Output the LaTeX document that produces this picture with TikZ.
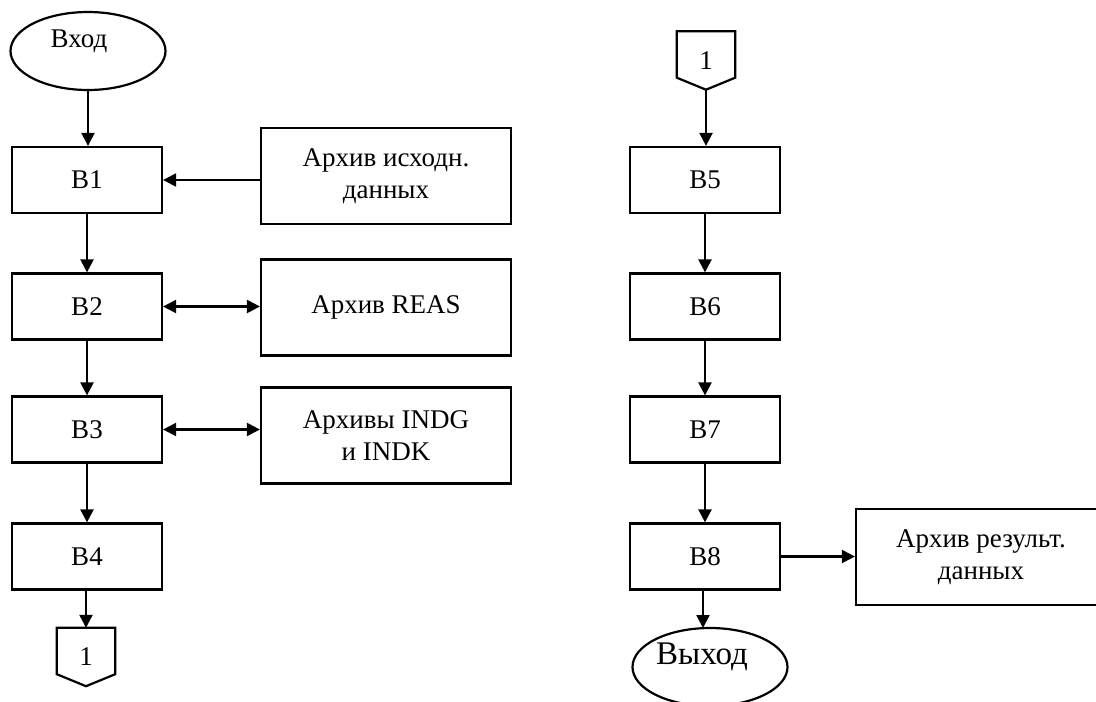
\documentclass[tikz,border=0pt]{standalone}
\usepackage{fontspec}
\setmainfont{Liberation Serif}
\usetikzlibrary{arrows.meta,shapes.geometric}
\begin{document}
\begin{tikzpicture}[x=1pt,y=-1pt,
  every node/.style={font=\fontsize{27}{32}\selectfont},
  blk/.style={draw,line width=2.2pt,minimum width=150pt,minimum height=66pt,inner sep=0pt},
  arch/.style={draw,line width=2.2pt,minimum width=250pt,minimum height=96pt,inner sep=0pt,align=center},
  term/.style={draw,ellipse,line width=2.2pt,minimum width=155pt,minimum height=78pt,inner sep=0pt},
  conn/.style={minimum width=58pt,minimum height=58pt,inner sep=0pt},
  connline/.style={line width=2.2pt,line join=miter},
  arr/.style={line width=2.2pt,-{Triangle[length=13pt,width=13pt]}},
  darr/.style={line width=2.2pt,{Triangle[length=13pt,width=13pt]}-{Triangle[length=13pt,width=13pt]}},
]
\useasboundingbox (0,0) rectangle (1096,702);
% left column
\node[term] (in) at (88,51) {};
\node (intext) at (79,41) {Вход};
\node[blk] (b1) at (87,180) {В1};
\node[blk] (b2) at (87,306.5) {В2};
\node[blk] (b3) at (87,429.5) {В3};
\node[blk] (b4) at (87,556.5) {В4};
\node[conn] (c1) at (86,657) {1};
\draw[connline] (c1.north west) -- (c1.north east) -- ([yshift=12pt]c1.south east) -- (c1.south) -- ([yshift=12pt]c1.south west) -- cycle;
\node[arch] (a1) at (386,176) {Архив исходн.\\данных};
\node[arch] (a2) at (386,307.5) {Архив REAS};
\node[arch] (a3) at (386,435.5) {Архивы INDG\\и INDK};
% right column
\node[conn] (c2) at (706,60.5) {1};
\draw[connline] (c2.north west) -- (c2.north east) -- ([yshift=12pt]c2.south east) -- (c2.south) -- ([yshift=12pt]c2.south west) -- cycle;
\node[blk] (b5) at (705,180) {В5};
\node[blk] (b6) at (705,306.5) {В6};
\node[blk] (b7) at (705,429.5) {В7};
\node[blk] (b8) at (705,556.5) {В8};
\node[arch] (a4) at (981,557) {Архив результ.\\данных};
\node[term] (out) at (710,667) {};
\node[font=\fontsize{33}{38}\selectfont] (outtext) at (702,657) {Выход};
% connectors
\draw[arr] (in.south) -- (in.south |- b1.north);
\draw[arr] (a1.west |- b1.east) -- (b1.east);
\draw[arr] (b1.south) -- (b2.north);
\draw[darr] (b2.east) -- (b2.east -| a2.west);
\draw[arr] (b2.south) -- (b3.north);
\draw[darr] (b3.east) -- (b3.east -| a3.west);
\draw[arr] (b3.south) -- (b4.north);
\draw[arr] (b4.south -| c1.north) -- (c1.north);
\draw[arr] (c2.south) -- (c2.south |- b5.north);
\draw[arr] (b5.south) -- (b6.north);
\draw[arr] (b6.south) -- (b7.north);
\draw[arr] (b7.south) -- (b8.north);
\draw[arr] (b8.east) -- (b8.east -| a4.west);
\draw[arr] (b8.south -| 703,0) -- (703,628);
\end{tikzpicture}
\end{document}
